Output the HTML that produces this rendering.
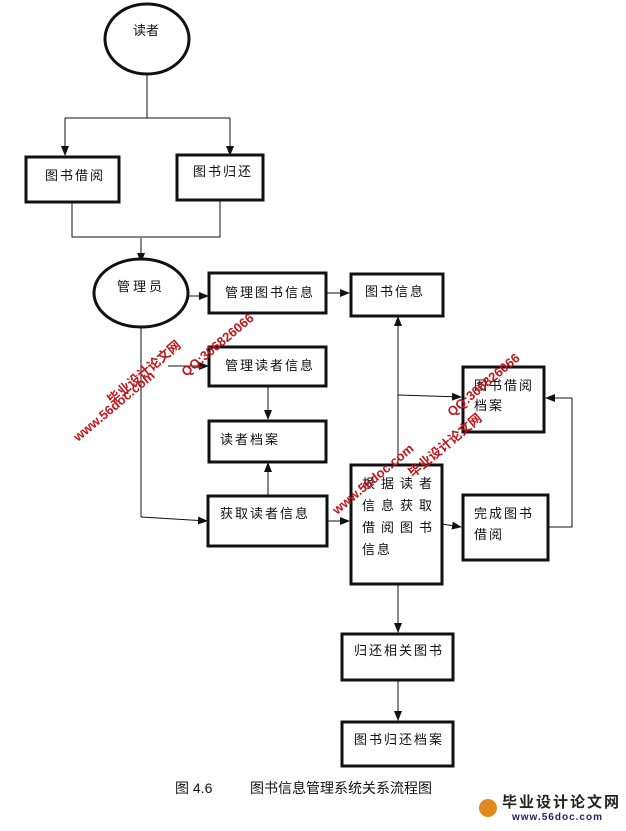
<!DOCTYPE html>
<html><head><meta charset="utf-8"><style>
body{margin:0;background:#fff;}
svg text{font-family:"Liberation Sans","Noto Sans CJK SC",sans-serif;font-size:13px;fill:#111;}
.wm{font-family:"Liberation Sans","Noto Sans CJK SC",sans-serif;font-weight:bold;fill:#c0161c;}
</style></head><body>
<svg width="626" height="826" viewBox="0 0 626 826" xmlns="http://www.w3.org/2000/svg">
<defs><marker id="a" markerWidth="10" markerHeight="10" refX="9" refY="5" orient="auto" markerUnits="userSpaceOnUse"><path d="M0,1 L10,5 L0,9 z" fill="#111"/></marker></defs>
<g fill="none" stroke="#111" stroke-width="1">
<line x1="147" y1="74" x2="147" y2="118"/>
<polyline points="65,118 230,118"/>
<line x1="65" y1="118" x2="65" y2="155" marker-end="url(#a)"/>
<line x1="230" y1="118" x2="230" y2="155" marker-end="url(#a)"/>
<polyline points="72,202 72,237 220,237 220,200"/>
<line x1="141" y1="238" x2="141" y2="262" marker-end="url(#a)"/>
<line x1="188" y1="296" x2="208" y2="296" marker-end="url(#a)"/>
<line x1="326" y1="293" x2="349" y2="293" marker-end="url(#a)"/>
<line x1="168" y1="366" x2="208" y2="366" marker-end="url(#a)"/>
<line x1="268" y1="386" x2="268" y2="419" marker-end="url(#a)"/>
<line x1="268" y1="496" x2="268" y2="463" marker-end="url(#a)"/>
<polyline points="141,327 141,517"/>
<line x1="141" y1="517" x2="207" y2="521" marker-end="url(#a)"/>
<line x1="327" y1="521" x2="349" y2="521" marker-end="url(#a)"/>
<line x1="398" y1="465" x2="398" y2="317" marker-end="url(#a)"/>
<line x1="398" y1="395" x2="461" y2="397" marker-end="url(#a)"/>
<line x1="442" y1="524" x2="461" y2="527" marker-end="url(#a)"/>
<polyline points="548,527 572,527 572,398"/>
<line x1="572" y1="398" x2="546" y2="398" marker-end="url(#a)"/>
<line x1="398" y1="584" x2="398" y2="632" marker-end="url(#a)"/>
<line x1="398" y1="680" x2="398" y2="720" marker-end="url(#a)"/>
</g>
<g fill="#fff" stroke="#111" stroke-width="3">
<ellipse cx="147" cy="39" rx="42" ry="35"/>
<rect x="26" y="157" width="93" height="45"/>
<rect x="177" y="155" width="86" height="45"/>
<ellipse cx="141" cy="293" rx="47" ry="34"/>
<rect x="209" y="273" width="117" height="40"/>
<rect x="351" y="274" width="92" height="42"/>
<rect x="209" y="347" width="117" height="39"/>
<rect x="209" y="421" width="117" height="41"/>
<rect x="208" y="496" width="119" height="50"/>
<rect x="351" y="465" width="91" height="119"/>
<rect x="463" y="367" width="81" height="65"/>
<rect x="463" y="495" width="85" height="65"/>
<rect x="342" y="634" width="111" height="46"/>
<rect x="342" y="722" width="111" height="44"/>
</g>
<g>
<text x="133" y="35">读者</text>
<text x="45" y="180" letter-spacing="2">图书借阅</text>
<text x="193" y="176" letter-spacing="2">图书归还</text>
<text x="117" y="291" letter-spacing="3">管理员</text>
<text x="225" y="297" letter-spacing="2">管理图书信息</text>
<text x="365" y="296" letter-spacing="2">图书信息</text>
<text x="225" y="370" letter-spacing="2">管理读者信息</text>
<text x="220" y="444" letter-spacing="2">读者档案</text>
<text x="220" y="518" letter-spacing="2">获取读者信息</text>
<text x="362" y="488" letter-spacing="6">根据读者</text>
<text x="362" y="510" letter-spacing="6">信息获取</text>
<text x="362" y="532" letter-spacing="6">借阅图书</text>
<text x="362" y="554" letter-spacing="2">信息</text>
<text x="474" y="390" letter-spacing="2">图书借阅</text>
<text x="474" y="410" letter-spacing="2">档案</text>
<text x="474" y="518" letter-spacing="2">完成图书</text>
<text x="474" y="539" letter-spacing="2">借阅</text>
<text x="354" y="655" letter-spacing="2">归还相关图书</text>
<text x="354" y="744" letter-spacing="2">图书归还档案</text>
<text x="175" y="793" style="font-size:14px">图 4.6</text>
<text x="250" y="793" style="font-size:14px">图书信息管理系统关系流程图</text>
</g>
<g transform="translate(112,405) rotate(-40)"><text class="wm" x="0" y="0" font-size="19">毕业设计论文网</text></g>
<g transform="translate(78,442) rotate(-40)"><text class="wm" x="0" y="0" font-size="17">www.56doc.com</text></g>
<g transform="translate(186,377) rotate(-40)"><text class="wm" x="0" y="0" font-size="16">QQ:306826066</text></g>
<g transform="translate(337,515) rotate(-40)"><text class="wm" x="0" y="0" font-size="17">www.56doc.com</text></g>
<g transform="translate(413,478) rotate(-40)"><text class="wm" x="0" y="0" font-size="19">毕业设计论文网</text></g>
<g transform="translate(452,417) rotate(-40)"><text class="wm" x="0" y="0" font-size="16">QQ:306826066</text></g>
<circle cx="488" cy="808" r="9" fill="#e08a1e"/>
<text x="502" y="807" style="font-size:15px;font-weight:bold;fill:#222" letter-spacing="2">毕业设计论文网</text>
<text x="512" y="820" style="font-size:10px;font-weight:bold;fill:#226" letter-spacing="1">www.56doc.com</text>
</svg>
</body></html>
